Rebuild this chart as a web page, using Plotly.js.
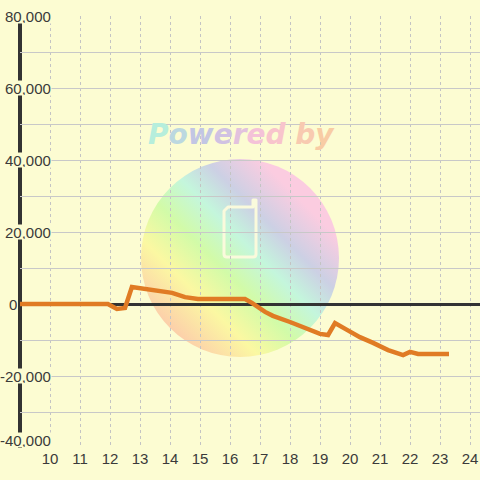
<!DOCTYPE html>
<html>
<head>
<meta charset="utf-8">
<script src="https://cdn.plot.ly/plotly-3.0.1.min.js"></script>
<style>html,body{margin:0;padding:0;background:#fcfcd2;}#chart{width:480px;height:480px;}</style>
</head>
<body>
<div id="chart"></div>
<script>
// Data
const hours = [9.0, 11.93, 12.23, 12.5, 12.73, 13.0, 13.27, 13.6, 14.07, 14.5, 14.93, 16.5, 16.73, 17.17, 17.43, 18.0, 18.4, 18.57, 19.0, 19.27, 19.5, 19.9, 20.33, 20.77, 21.07, 21.27, 21.77, 22.0, 22.27, 23.3];
const values = [0, 0, -1400, -1100, 4700, 4400, 3900, 3600, 3100, 1900, 1400, 1400, 300, -2200, -3300, -5000, -6400, -6700, -8300, -8600, -5300, -7200, -9200, -10800, -11900, -12800, -14200, -13300, -13900, -13900];
const xTickValues = [10, 11, 12, 13, 14, 15, 16, 17, 18, 19, 20, 21, 22, 23, 24];
const xTickLabels = ["10", "11", "12", "13", "14", "15", "16", "17", "18", "19", "20", "21", "22", "23", "24"];
const yTickValues = [80000, 60000, 40000, 20000, 0, -20000, -40000];
const yTickLabels = ["80,000", "60,000", "40,000", "20,000", "0", "-20,000", "-40,000"];
const watermarkWord = "Powered by";
const watermarkColors = ["#b6eedc", "#bcd8e0", "#c2c6e4", "#d0c2e2", "#e2c2de", "#f4c2d8", "#f8c4cc", "#fcfcd2", "#f8cab0", "#f8cca4"];

const BG = "#fcfcd2";
const FONT = "Liberation Sans, Arial, sans-serif";

const svg = '<svg xmlns="http://www.w3.org/2000/svg" width="200" height="200" viewBox="0 0 200 200">' +
  '<defs><linearGradient id="g" x1="0" y1="1" x2="1" y2="0">' +
  '<stop offset="0.15" stop-color="#fcd0aa"/>' +
  '<stop offset="0.30" stop-color="#fbf8a2"/>' +
  '<stop offset="0.43" stop-color="#d2fba8"/>' +
  '<stop offset="0.55" stop-color="#c4f6dc"/>' +
  '<stop offset="0.66" stop-color="#ccd0e4"/>' +
  '<stop offset="0.80" stop-color="#fbcce0"/>' +
  '</linearGradient></defs>' +
  '<circle cx="100" cy="100" r="99" fill="url(#g)"/>' +
  '<path d="M88 49 L113 49 L113 42 L116 42 L116 96 Q116 99 113 99 L87 99 Q84 99 84 96 L84 53 Z" fill="none" stroke="#fafadc" stroke-width="3" stroke-linejoin="round"/>' +
  '</svg>';
const svgUri = "data:image/svg+xml;charset=utf-8," + encodeURIComponent(svg);

const plotLeft = 20, plotW = 460, plotTop = 16, plotH = 432;
function px2paperX(px) { return (px - plotLeft) / plotW; }
function px2paperY(py) { return (plotTop + plotH - py) / plotH; }

const yMin = Math.min(...yTickValues);
const annotations = yTickValues.map((v, i) => {
  const isZero = v === 0;
  const isBottom = v === yMin;
  return {
    xref: "paper", yref: "y",
    x: isZero ? px2paperX(8) : px2paperX(52),
    y: v,
    xanchor: isZero ? "left" : "right",
    yanchor: isBottom ? "bottom" : "middle",
    text: yTickLabels[i],
    showarrow: false,
    bgcolor: isZero ? "rgba(0,0,0,0)" : BG,
    borderpad: 0,
    height: 14,
    font: {family: FONT, size: 15, color: "#3a3a3a"}
  };
});

const word = watermarkWord.split("").map((ch, i) =>
  '<span style="color:' + watermarkColors[i] + '">' + ch + '</span>').join("");
annotations.push({
  xref: "paper", yref: "paper",
  x: px2paperX(241), y: px2paperY(134),
  xanchor: "center", yanchor: "middle",
  text: "<b><i>" + word + "</i></b>",
  showarrow: false,
  font: {family: "DejaVu Sans, sans-serif", size: 28, color: "#d8d0e4"}
});

const trace = {
  x: hours, y: values,
  type: "scatter", mode: "lines",
  line: {color: "#e07b24", width: 4.5},
  hoverinfo: "skip"
};

const layout = {
  width: 480, height: 480,
  margin: {l: 20, r: 0, t: 16, b: 32, pad: 0},
  paper_bgcolor: BG,
  plot_bgcolor: "rgba(0,0,0,0)",
  showlegend: false,
  font: {family: FONT, size: 15, color: "#3a3a3a"},
  xaxis: {
    range: [9, 24.3333],
    tickmode: "array", tickvals: xTickValues, ticktext: xTickLabels,
    showgrid: true, gridcolor: "#c4c4c4", griddash: "dot", gridwidth: 1,
    zeroline: false, showline: false, ticks: "",
    tickfont: {family: FONT, size: 15, color: "#3a3a3a"},
    fixedrange: true
  },
  yaxis: {
    range: [-40000, 80000],
    tick0: 0, dtick: 10000,
    showgrid: true, gridcolor: "#c8c8c8", gridwidth: 1,
    zeroline: true, zerolinecolor: "#333333", zerolinewidth: 3,
    showline: false, ticks: "", showticklabels: false,
    fixedrange: true
  },
  shapes: [{
    type: "line", xref: "paper", yref: "paper",
    x0: 0, x1: 0, y0: 0, y1: 1,
    line: {color: "#333333", width: 4},
    layer: "below"
  }],
  images: [{
    source: svgUri,
    xref: "paper", yref: "paper",
    x: px2paperX(140), y: px2paperY(158),
    sizex: 200 / plotW, sizey: 200 / plotH,
    xanchor: "left", yanchor: "top",
    sizing: "stretch", layer: "below", opacity: 1
  }],
  annotations: annotations
};

Plotly.newPlot("chart", [trace], layout, {displayModeBar: false, staticPlot: true});
</script>
</body>
</html>
